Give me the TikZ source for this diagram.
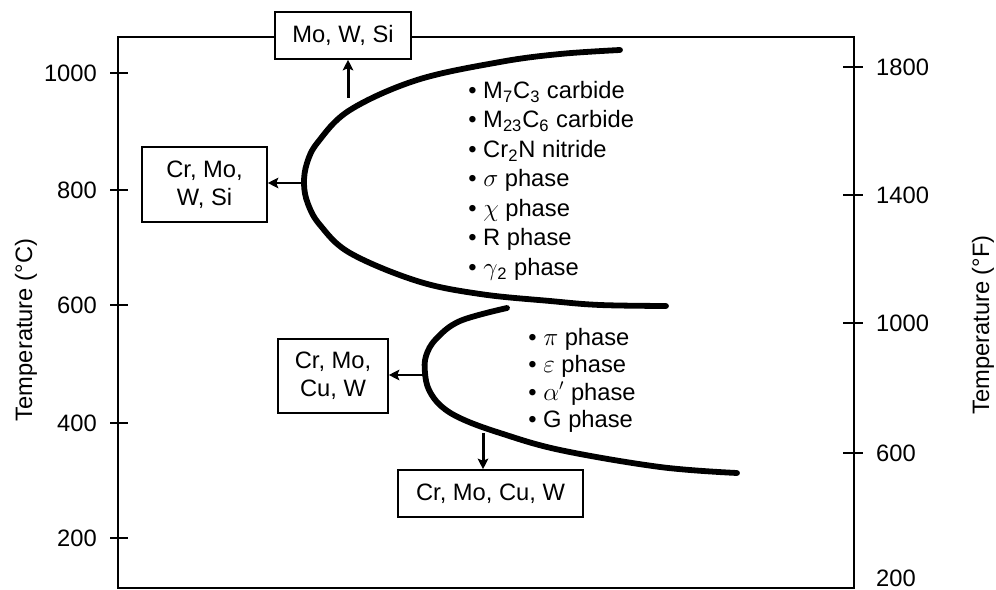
\documentclass[tikz,border=0pt]{standalone}
\usepackage{fontspec}
\setmainfont{Liberation Sans}
\usepackage{tikz}
\usetikzlibrary{arrows.meta}
\tikzstyle{element} = [rectangle, draw=black, line width=0.9pt, fill=white, text centered, align=center, inner sep=2pt]
\tikzstyle{phase} = [anchor=base west, inner sep=0pt]
\tikzstyle{curve} = [line width=3.3pt, line cap=round]
\tikzstyle{axistick} = [line width=0.9pt]
\tikzstyle{arrow} = [line width=1.7pt,->,>={Stealth[length=6pt,width=6pt,inset=1.2pt]}]

\begin{document}
\begin{tikzpicture}[x=0.02cm, y=-0.02cm, font=\fontsize{13.5}{16}\selectfont]
    \useasboundingbox (0,0) rectangle (996,590);

    % Eixos
    \draw [line width=0.9pt] (118,37) rectangle (854,588);

    \node (c1000) [anchor=east] at (103,73) {1000};
    \node (c800) [anchor=east] at (103,190) {800};
    \node (c600) [anchor=east] at (103,305) {600};
    \node (c400) [anchor=east] at (103,423) {400};
    \node (c200) [anchor=east] at (103,538) {200};
    \draw [axistick] (110,73) -- (128,73);
    \draw [axistick] (110,190) -- (128,190);
    \draw [axistick] (110,305) -- (128,305);
    \draw [axistick] (110,423) -- (128,423);
    \draw [axistick] (110,538) -- (128,538);

    \node (f1800) [anchor=west] at (870,67) {1800};
    \node (f1400) [anchor=west] at (870,195) {1400};
    \node (f1000) [anchor=west] at (870,323) {1000};
    \node (f600) [anchor=west] at (870,453) {600};
    \node (f200) [anchor=west] at (870,578) {200};
    \draw [axistick] (843,67) -- (863,67);
    \draw [axistick] (843,195) -- (863,195);
    \draw [axistick] (843,323) -- (863,323);
    \draw [axistick] (843,453) -- (863,453);

    \node (tc) [rotate=90] at (26,330) {Temperature (°C)};
    \node (tf) [rotate=90] at (983,325) {Temperature (°F)};

    % Curvas
    \draw [curve] plot [smooth, tension=0.6] coordinates {(620,50) (560,54) (500,62) (417,80) (350,110) (318,142) (307,163) (304,184) (308,204) (320,225) (350,253) (417,281) (480,294) (550,301) (600,305) (666,306)};
    \draw [curve] plot [smooth, tension=0.6] coordinates {(507,308) (460,321) (436,339) (426,356) (425,373) (429,390) (441,406) (462,419) (500,433) (560,450) (660,467) (737,473)};

    % Fases
    \node (m7c3) [phase] at (468,98.5) {\textbullet\ M\textsubscript{7}C\textsubscript{3} carbide};
    \node (m23c6) [phase] at (468,128) {\textbullet\ M\textsubscript{23}C\textsubscript{6} carbide};
    \node (cr2n) [phase] at (468,157.5) {\textbullet\ Cr\textsubscript{2}N nitride};
    \node (sigma) [phase] at (468,187) {\textbullet\ $\sigma$ phase};
    \node (chi) [phase] at (468,216.5) {\textbullet\ $\chi$ phase};
    \node (rph) [phase] at (468,246) {\textbullet\ R phase};
    \node (gamma2) [phase] at (468,275.5) {\textbullet\ $\gamma$\textsubscript{2} phase};

    \node (piph) [phase] at (528,345.5) {\textbullet\ $\pi$ phase};
    \node (epsph) [phase] at (528,372.8) {\textbullet\ $\varepsilon$ phase};
    \node (alphaph) [phase] at (528,400.1) {\textbullet\ $\alpha'$ phase};
    \node (gph) [phase] at (528,427.5) {\textbullet\ G phase};

    % Elementos
    \node (mows) [element, minimum width=2.72cm, minimum height=0.94cm] at (343,35.5) {Mo, W, Si};
    \node (crmowsi) [element, minimum width=2.5cm, minimum height=1.5cm] at (204.5,184.5) {Cr, Mo,\\W, Si};
    \node (crmocuw) [element, minimum width=2.2cm, minimum height=1.48cm] at (333,376) {Cr, Mo,\\Cu, W};
    \node (crmocuwb) [element, minimum width=3.7cm, minimum height=0.94cm] at (490.5,493.5) {Cr, Mo, Cu, W};

    % Conexões
    \coordinate (up) at (348,98);
    \coordinate (nose1) at (302,183);
    \coordinate (nose2) at (423,375);
    \coordinate (down) at (483,433);
    \draw [arrow] (up) -- (up |- mows.south);
    \draw [arrow] (nose1) -- (nose1 -| crmowsi.east);
    \draw [arrow] (nose2) -- (nose2 -| crmocuw.east);
    \draw [arrow] (down) -- (down |- crmocuwb.north);

\end{tikzpicture}
\end{document}
